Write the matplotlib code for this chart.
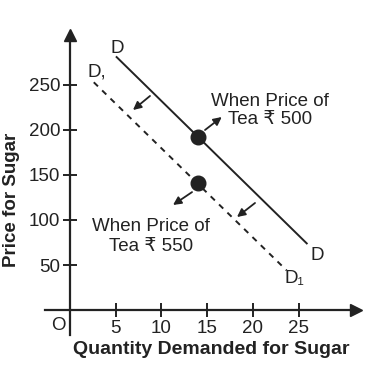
import matplotlib
matplotlib.use("Agg")
import matplotlib.pyplot as plt

plt.rcParams['font.family'] = ['Liberation Sans', 'DejaVu Sans']

# Data
d_x = [5.1, 25.9]
d_y = [281, 74]
d1_x = [2.6, 23.7]
d1_y = [253, 44]
pt_x = [14, 14]
pt_y = [192, 141]
xticks = [5, 10, 15, 20, 25]
yticks = [50, 100, 150, 200, 250]

fig = plt.figure(figsize=(3.71, 3.66), dpi=100)
ax = fig.add_axes([0, 0, 1, 1])
ax.set_xlim(-7.66, 32.93)
ax.set_ylim(-62.2, 344.4)

for s in ['top', 'right']:
    ax.spines[s].set_visible(False)
ax.spines['left'].set_position(('data', 0))
ax.spines['bottom'].set_position(('data', 0))
ax.spines['left'].set_bounds(-28, 300)
ax.spines['bottom'].set_bounds(-2.7, 30.5)
for s in ['left', 'bottom']:
    ax.spines[s].set_linewidth(1.6)
    ax.spines[s].set_color('#222222')

ax.plot([0], [306], marker='^', color='#222222', markersize=9, clip_on=False)
ax.plot([31.3], [0], marker='>', color='#222222', markersize=9, clip_on=False)

ax.set_xticks(xticks)
ax.set_yticks(yticks)
ax.tick_params(axis='both', direction='inout', length=10, width=1.4,
               labelsize=13.5, colors='#222222', pad=2)

ax.plot(d_x, d_y, color='#222222', lw=1.4)
ax.plot(d1_x, d1_y, color='#222222', lw=1.4, ls=(0, (3, 3)))
ax.plot(pt_x, pt_y, 'o', color='#222222', markersize=10.5)

ap = dict(arrowstyle='-|>', color='#222222', lw=1.3, mutation_scale=12, shrinkA=0, shrinkB=0)
ax.annotate('', xy=(6.89, 222.2), xytext=(8.75, 237.8), arrowprops=ap)
ax.annotate('', xy=(18.27, 103.3), xytext=(20.24, 118.9), arrowprops=ap)
ax.annotate('', xy=(16.6, 214.4), xytext=(14.77, 200), arrowprops=ap)
ax.annotate('', xy=(11.27, 116.7), xytext=(13.35, 131), arrowprops=ap)

ax.text(21.9, 222, 'When Price of\nTea ₹ 500', ha='center', va='center',
        fontsize=13.5, linespacing=1.1, color='#222222')
ax.text(8.9, 82, 'When Price of\nTea ₹ 550', ha='center', va='center',
        fontsize=13.5, linespacing=1.25, color='#222222')

ax.text(5.14, 291, 'D', ha='center', va='center', fontsize=13.5, color='#222222')
ax.text(2.95, 264, 'D,', ha='center', va='center', fontsize=13.5, color='#222222')
ax.text(27.1, 61, 'D', ha='center', va='center', fontsize=13.5, color='#222222')
ax.text(24.6, 35.5, 'D₁', ha='center', va='center', fontsize=13.5, color='#222222')
ax.text(-1.3, -17, 'O', ha='center', va='center', fontsize=13.5, color='#222222')

ax.text(15.5, -44.4, 'Quantity Demanded for Sugar', ha='center', va='center',
        fontsize=14, fontweight='bold', color='#222222')
ax.text(-6.45, 122, 'Price for Sugar', ha='center', va='center', rotation=90,
        fontsize=13.5, fontweight='bold', color='#222222')

fig.savefig('out.png', dpi=100, facecolor='white')
